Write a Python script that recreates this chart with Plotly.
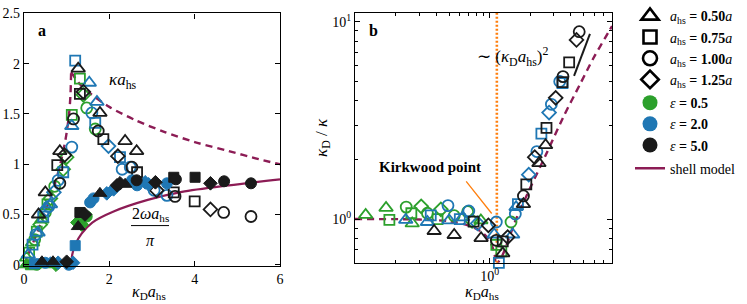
import plotly.graph_objects as go

# ---------------- colours ----------------
GREEN = "#2ca02c"
BLUE = "#1f77b4"
BLACK = "#1a1a1a"
MAROON = "#8c1c55"
ORANGE = "#ff7f0e"
FONT = "Liberation Serif"

# ================= PANEL a : kappa_D a_hs on x =================
# open markers : kappa a_hs
A_KAP_G_TRI_X = [0.06, 0.20, 0.42]
A_KAP_G_TRI_Y = [0.07, 0.22, 0.45]
A_KAP_G_SQ_X = [0.12, 0.30, 0.55, 1.12, 1.31]
A_KAP_G_SQ_Y = [0.12, 0.33, 0.60, 1.49, 1.85]
A_KAP_G_CI_X = [0.25, 0.50, 0.72, 1.47, 1.67]
A_KAP_G_CI_Y = [0.25, 0.52, 0.78, 1.56, 1.35]
A_KAP_G_DI_X = [0.38, 0.62, 0.92, 1.00, 1.39]
A_KAP_G_DI_Y = [0.40, 0.66, 0.95, 1.07, 1.69]
A_KAP_B_TRI_X = [0.10, 0.33, 0.62, 1.12, 1.53, 1.71]
A_KAP_B_TRI_Y = [0.10, 0.32, 0.60, 1.38, 1.81, 1.62]
A_KAP_B_SQ_X = [0.20, 0.45, 0.92, 1.20, 1.67, 2.25]
A_KAP_B_SQ_Y = [0.20, 0.48, 0.92, 2.03, 1.41, 1.07]
A_KAP_B_CI_X = [0.28, 0.58, 0.80, 1.12, 1.59, 2.30, 2.49, 3.05, 3.35]
A_KAP_B_CI_Y = [0.30, 0.58, 0.84, 1.17, 1.51, 0.95, 0.97, 0.74, 0.69]
A_KAP_B_DI_X = [0.52, 0.70, 1.98]
A_KAP_B_DI_Y = [0.55, 0.72, 1.18]
A_KAP_K_TRI_X = [0.34, 0.50, 0.84, 1.27, 1.78, 2.37, 2.64]
A_KAP_K_TRI_Y = [0.50, 0.72, 1.13, 1.95, 1.51, 1.23, 1.13]
A_KAP_K_SQ_X = [0.78, 1.31, 1.86, 2.65, 3.51, 4.00]
A_KAP_K_SQ_Y = [0.99, 1.70, 1.25, 0.92, 0.72, 0.63]
A_KAP_K_CI_X = [0.84, 1.16, 1.74, 2.53, 3.54, 4.68, 5.32]
A_KAP_K_CI_Y = [0.81, 1.45, 1.33, 0.97, 0.68, 0.52, 0.48]
A_KAP_K_DI_X = [0.95, 1.39, 2.20, 3.11, 4.37]
A_KAP_K_DI_Y = [1.09, 1.72, 1.08, 0.74, 0.55]

# filled markers : 2 omega a_hs / pi
A_OM_G_TRI_X = [0.05, 0.55]
A_OM_G_TRI_Y = [0.00, 0.00]
A_OM_G_SQ_X = [0.15]
A_OM_G_SQ_Y = [0.00]
A_OM_G_CI_X = [0.30, 1.47]
A_OM_G_CI_Y = [0.00, 0.48]
A_OM_G_DI_X = [0.75, 1.25, 1.35]
A_OM_G_DI_Y = [0.00, 0.42, 0.40]
A_OM_B_TRI_X = [0.62]
A_OM_B_TRI_Y = [0.02]
A_OM_B_SQ_X = [0.25, 1.20]
A_OM_B_SQ_Y = [0.01, 0.19]
A_OM_B_CI_X = [0.50, 1.05, 1.55, 1.63, 2.53, 2.65, 3.35]
A_OM_B_CI_Y = [0.02, 0.00, 0.62, 0.66, 0.84, 0.79, 0.81]
A_OM_B_DI_X = [0.80, 1.15, 1.94, 2.10, 2.84, 2.92]
A_OM_B_DI_Y = [0.02, 0.02, 0.71, 0.75, 0.82, 0.80]
A_OM_K_TRI_X = [0.42, 0.68, 1.27, 1.78, 2.37]
A_OM_K_TRI_Y = [0.03, 0.03, 0.38, 0.71, 0.80]
A_OM_K_SQ_X = [1.31, 3.51, 4.01]
A_OM_K_SQ_Y = [0.52, 0.87, 0.87]
A_OM_K_CI_X = [2.64, 3.56, 4.69, 5.32]
A_OM_K_CI_Y = [0.84, 0.85, 0.83, 0.81]
A_OM_K_DI_X = [1.00, 1.43, 2.18, 2.25, 3.08, 4.37]
A_OM_K_DI_Y = [0.03, 0.50, 0.79, 0.81, 0.82, 0.81]

# shell model curves
A_SHELL_KAP_RISE_X = [0.0, 0.30, 0.50, 0.70, 0.85, 0.975, 1.057, 1.09, 1.104]
A_SHELL_KAP_RISE_Y = [0.0, 0.31, 0.53, 0.77, 1.00, 1.25, 1.50, 1.70, 1.915]
A_SHELL_KAP_FALL_X = [1.104, 1.30, 1.50, 2.00, 2.60, 3.30, 4.00, 4.80, 5.50, 6.00]
A_SHELL_KAP_FALL_Y = [1.915, 1.80, 1.72, 1.57, 1.44, 1.32, 1.22, 1.13, 1.05, 1.00]
A_SHELL_OM_X = [1.104, 1.13, 1.20, 1.35, 1.60, 2.10, 2.90, 3.70, 4.80, 6.00]
A_SHELL_OM_Y = [0.00, 0.10, 0.20, 0.31, 0.42, 0.53, 0.645, 0.725, 0.79, 0.85]

# ================= PANEL b : kappa_D / kappa =================
B_G_TRI_X = [0.12, 0.17, 0.266, 0.86]
B_G_TRI_Y = [1.05, 1.14, 0.95, 0.985]
B_G_SQ_X = [0.18, 0.262, 0.41, 1.12, 1.22]
B_G_SQ_Y = [0.99, 1.07, 1.00, 0.74, 0.685]
B_G_CI_X = [0.24, 0.345, 0.545, 0.686, 1.44]
B_G_CI_Y = [1.15, 1.07, 1.04, 1.09, 0.966]
B_G_DI_X = [0.31, 0.434, 0.74]
B_G_DI_Y = [1.16, 1.12, 0.98]
B_B_TRI_X = [0.238, 0.345, 0.50, 0.63, 1.08, 1.48, 1.57]
B_B_TRI_Y = [0.99, 0.966, 0.985, 1.02, 0.835, 0.835, 1.15]
B_B_SQ_X = [0.365, 0.60, 1.17, 1.62, 2.42, 3.47]
B_B_SQ_Y = [1.045, 1.00, 0.60, 1.19, 2.71, 4.90]
B_B_CI_X = [0.49, 0.70, 1.12, 1.55, 2.24, 2.87, 3.31]
B_B_CI_Y = [1.17, 1.10, 0.966, 1.06, 2.20, 3.82, 4.99]
B_B_DI_X = [0.814, 1.95, 2.76]
B_B_DI_Y = [0.95, 1.68, 3.47]
B_K_TRI_X = [0.387, 0.545, 0.863, 1.25, 1.78, 2.32, 2.60]
B_K_TRI_Y = [0.87, 0.83, 0.80, 0.67, 1.19, 1.92, 2.37]
B_K_SQ_X = [0.76, 1.25, 1.87, 2.64, 3.47, 3.89]
B_K_SQ_Y = [0.97, 0.77, 1.50, 2.90, 4.95, 6.23]
B_K_CI_X = [1.12, 1.78, 3.50, 4.62, 5.24]
B_K_CI_Y = [0.78, 1.31, 5.28, 8.92, 11.4]
B_K_DI_X = [0.978, 1.36, 2.16, 3.09, 4.41]
B_K_DI_Y = [0.93, 0.81, 2.06, 4.12, 8.10]

B_SHELL_LOW_X = [0.10, 0.30, 0.50, 0.69, 0.85, 0.97, 1.08, 1.104]
B_SHELL_LOW_Y = [1.00, 0.995, 0.975, 0.93, 0.87, 0.80, 0.68, 0.577]
B_SHELL_HIGH_X = [1.104, 1.15, 1.25, 1.57, 1.98, 2.64, 3.51, 4.67, 5.87, 7.60, 8.10]
B_SHELL_HIGH_Y = [0.577, 0.60, 0.66, 1.00, 1.42, 2.15, 3.28, 4.81, 6.52, 8.85, 9.53]

KIRKWOOD_X = 1.13
B_Y_LIMITS = [0.6, 11.1]
SLOPE_GUIDE_X = [4.23, 5.55]
SLOPE_GUIDE_Y = [5.32, 8.69]

LEGEND_SHAPES = ["0.50", "0.75", "1.00", "1.25"]
LEGEND_EPS = ["0.5", "2.0", "5.0"]

SYMBOLS = {"TRI": "triangle-up", "SQ": "square", "CI": "circle", "DI": "diamond"}
SIZES = {"TRI": 12, "SQ": 10, "CI": 11, "DI": 10.5}
COLORS = {"G": GREEN, "B": BLUE, "K": BLACK}

fig = go.Figure()
g = globals()


def add_markers(prefix, filled, xa, ya):
    for c in ["G", "B", "K"]:
        for s in ["TRI", "SQ", "CI", "DI"]:
            xs = g[f"{prefix}_{c}_{s}_X"]
            ys = g[f"{prefix}_{c}_{s}_Y"]
            sym = SYMBOLS[s] if filled else SYMBOLS[s] + "-open"
            fig.add_trace(go.Scatter(
                x=xs, y=ys, mode="markers", xaxis=xa, yaxis=ya,
                showlegend=False, cliponaxis=False, hoverinfo="skip",
                marker=dict(symbol=sym, size=SIZES[s], color=COLORS[c],
                            line=dict(color=COLORS[c], width=1.0 if filled else 1.8))))


# shell model curves
dash_style = dict(color=MAROON, width=2.4, dash="7px,5px")
for xs, ys in [(A_SHELL_KAP_RISE_X, A_SHELL_KAP_RISE_Y), (A_SHELL_KAP_FALL_X, A_SHELL_KAP_FALL_Y)]:
    fig.add_trace(go.Scatter(x=xs, y=ys, mode="lines", line=dict(shape="spline", smoothing=0.8, **dash_style),
                             xaxis="x", yaxis="y", showlegend=False, hoverinfo="skip"))
fig.add_trace(go.Scatter(x=A_SHELL_OM_X, y=A_SHELL_OM_Y, mode="lines",
                         line=dict(color=MAROON, width=2.2, shape="spline", smoothing=0.8),
                         xaxis="x", yaxis="y", showlegend=False, hoverinfo="skip"))
for xs, ys in [(B_SHELL_LOW_X, B_SHELL_LOW_Y), (B_SHELL_HIGH_X, B_SHELL_HIGH_Y)]:
    fig.add_trace(go.Scatter(x=xs, y=ys, mode="lines", line=dict(shape="spline", smoothing=0.8, **dash_style),
                             xaxis="x2", yaxis="y2", showlegend=False, hoverinfo="skip"))

# Kirkwood vertical line
fig.add_trace(go.Scatter(x=[KIRKWOOD_X, KIRKWOOD_X], y=B_Y_LIMITS, mode="lines",
                         line=dict(color=ORANGE, width=2.6, dash="2px,2px"),
                         xaxis="x2", yaxis="y2", showlegend=False, hoverinfo="skip"))
# slope guide
fig.add_trace(go.Scatter(x=SLOPE_GUIDE_X, y=SLOPE_GUIDE_Y, mode="lines",
                         line=dict(color=BLACK, width=2),
                         xaxis="x2", yaxis="y2", showlegend=False, hoverinfo="skip"))

add_markers("A_KAP", False, "x", "y")
add_markers("A_OM", True, "x", "y")
add_markers("B", False, "x2", "y2")

# ---------------- legend entries ----------------
for s, v in zip(["TRI", "SQ", "CI", "DI"], LEGEND_SHAPES):
    fig.add_trace(go.Scatter(
        x=[None], y=[None], mode="markers", legendgroup="shape",
        name=f"<i>a</i><sub>hs</sub> <b>= {v}</b><i>a</i>",
        marker=dict(symbol=SYMBOLS[s] + "-open", size=SIZES[s] + 3, color="black",
                    line=dict(color="black", width=2.6))))
for c, v in zip(["G", "B", "K"], LEGEND_EPS):
    fig.add_trace(go.Scatter(
        x=[None], y=[None], mode="markers", legendgroup="eps",
        name=f"<i>ε</i> <b>= {v}</b>",
        marker=dict(symbol="circle", size=15, color=COLORS[c])))
fig.add_trace(go.Scatter(x=[None], y=[None], mode="lines", legendgroup="shell",
                         name="shell model", line=dict(color=MAROON, width=2.6)))

W, H = 747, 304


def px(v):
    return v / W


def py(v):
    return 1 - v / H


axis_common = dict(showline=True, linecolor="black", linewidth=1.3, mirror="ticks",
                   ticks="inside", ticklen=5, tickwidth=1.2, tickcolor="black",
                   showgrid=False, zeroline=False,
                   tickfont=dict(family=FONT, size=14, color="black"))

minor_vals_x = [d * 10 ** e for e in (-1, 0) for d in range(2, 10)]
minor_vals_y = [d * 10 ** e for e in (-1, 0, 1) for d in range(2, 10)]

fig.update_layout(
    width=W, height=H,
    margin=dict(l=0, r=0, t=0, b=0),
    paper_bgcolor="white", plot_bgcolor="white",
    font=dict(family=FONT, size=14, color="black"),
    xaxis=dict(domain=[px(24), px(280)], range=[0, 6], tickvals=[0, 2, 4, 6],
               anchor="y", automargin=False, **axis_common),
    yaxis=dict(domain=[py(265), py(7.5)], range=[-0.01, 2.5], tickvals=[0, 0.5, 1, 1.5, 2, 2.5],
               ticktext=["0", "0.5", "1", "1.5", "2", "2.5"],
               anchor="x", automargin=False, **axis_common),
    xaxis2=dict(domain=[px(355), px(612)], type="log", range=[-1, 0.908],
                tickmode="array", tickvals=[1], ticktext=["10<sup>0</sup>"],
                minor=dict(tickmode="array", tickvals=minor_vals_x, ticks="inside", ticklen=3,
                           tickcolor="black", showgrid=False),
                anchor="y2", automargin=False, **axis_common),
    yaxis2=dict(domain=[py(262), py(7)], type="log", range=[-0.222, 1.046],
                tickmode="array", tickvals=[1, 10], ticktext=["10<sup>0</sup>", "10<sup>1</sup>"],
                minor=dict(tickmode="array", tickvals=minor_vals_y, ticks="inside", ticklen=3,
                           tickcolor="black", showgrid=False),
                title=dict(text="<i>κ</i><sub>D</sub> / <i>κ</i>", font=dict(size=17), standoff=0),
                anchor="x2", automargin=False, **axis_common),
    legend=dict(x=px(630), y=py(88), xanchor="left", yanchor="middle",
                traceorder="grouped", tracegroupgap=2,
                font=dict(family=FONT, size=14, color="black"),
                bgcolor="rgba(0,0,0,0)", itemsizing="trace"),
    showlegend=True,
)

ann = [
    dict(text="<b>a</b>", x=px(41.7), y=py(25), size=16),
    dict(text="<b>b</b>", x=px(373), y=py(25), size=16),
    dict(text="<i>κa</i><sub>hs</sub>", x=px(123), y=py(76), size=17),
    dict(text="2<i>ωa</i><sub>hs</sub>", x=px(150), y=py(213), size=16),
    dict(text="<i>π</i>", x=px(150), y=py(239), size=16),
    dict(text="∼ (<i>κ</i><sub>D</sub><i>a</i><sub>hs</sub>)<sup>2</sup>", x=px(512), y=py(52), size=17),
    dict(text="<b>Kirkwood point</b>", x=px(430), y=py(164), size=15),
    dict(text="<i>κ</i><sub>D</sub><i>a</i><sub>hs</sub>", x=px(149), y=py(292), size=16),
    dict(text="<i>κ</i><sub>D</sub><i>a</i><sub>hs</sub>", x=px(482), y=py(292), size=16),
]
for a in ann:
    fig.add_annotation(xref="paper", yref="paper", showarrow=False, xanchor="center", yanchor="middle",
                       text=a["text"], x=a["x"], y=a["y"],
                       font=dict(family=FONT, color="black", size=a["size"]))

# Kirkwood pointer line (no head)
fig.add_annotation(xref="paper", yref="paper", x=px(491.7), y=py(211.7), ax=-26.7, ay=-33.7,
                   text="", showarrow=True, arrowhead=0, arrowwidth=1.3, arrowcolor=ORANGE, standoff=0)
# fraction bar
fig.add_shape(type="line", xref="paper", yref="paper", x0=px(131), x1=px(169), y0=py(224), y1=py(224),
              line=dict(color="black", width=1))

fig.write_html("out.html", config={"displayModeBar": False},
               post_script="document.body.style.margin='0px';")
